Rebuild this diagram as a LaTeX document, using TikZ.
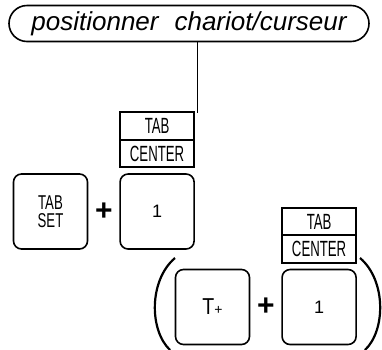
\documentclass[tikz,border=0pt]{standalone}
\usepackage{fontspec}
\setsansfont{Liberation Sans}
\usetikzlibrary{positioning}
\newcommand{\cnd}[1]{\scalebox{0.66}[1]{#1}}
\newcommand{\cndl}[1]{\scalebox{0.6}[1]{#1}}

\begin{document}
\begin{tikzpicture}[x=1pt, y=-1pt, node distance=31pt,
    key/.style={draw, line width=1.6pt, rounded corners=8pt, minimum width=74pt, minimum height=75pt, inner sep=0pt, align=center, font=\sffamily\fontsize{20}{18}\selectfont},
    lbl/.style={draw, line width=1.6pt, outer sep=0pt, minimum width=74pt, minimum height=27.5pt, inner sep=0pt, font=\sffamily\fontsize{22}{20}\selectfont},
    plus/.style={font=\sffamily\bfseries\fontsize{30}{30}\selectfont, inner sep=0pt}]
\useasboundingbox (0,0) rectangle (382,349);
% titre
\node (pill) [draw, line width=1.6pt, rounded corners=18pt, minimum width=360pt, minimum height=36pt, font=\sffamily\itshape\fontsize{26}{26}\selectfont] at (189,23.5) {positionner\hspace{16pt}chariot/curseur};
\coordinate (tige) at (197,113);
\draw[line width=1pt] (pill.south -| tige) -- (tige);
% premier groupe
\node (tabset) [key] at (50.5,211.5) {\cnd{TAB}\\\cnd{SET}};
\node (unA) [key, right=of tabset, font=\sffamily\fontsize{18}{18}\selectfont] {1};
\path (tabset) -- node[plus] (plusA) {+} (unA);
\node (centerA) [lbl, above=6pt of unA] {\cndl{CENTER}};
\node (tabA) [lbl, above=0pt of centerA] {\cndl{TAB}};
% second groupe
\node (tplus) [key] at (212.5,307) {\scalebox{0.85}[1]{\fontsize{23}{23}\selectfont T}{\fontsize{14}{14}\selectfont+}};
\node (unB) [key, right=of tplus, font=\sffamily\fontsize{18}{18}\selectfont] {1};
\path (tplus) -- node[plus] (plusB) {+} (unB);
\node (centerB) [lbl, above=6pt of unB] {\cndl{CENTER}};
\node (tabB) [lbl, above=0pt of centerB] {\cndl{TAB}};
% parentheses
\draw[line width=2.2pt] (175,258) .. controls (149,280) and (149,330) .. (170,350);
\draw[line width=2.2pt] (360,258) .. controls (386,280) and (386,330) .. (365,350);
\end{tikzpicture}
\end{document}
